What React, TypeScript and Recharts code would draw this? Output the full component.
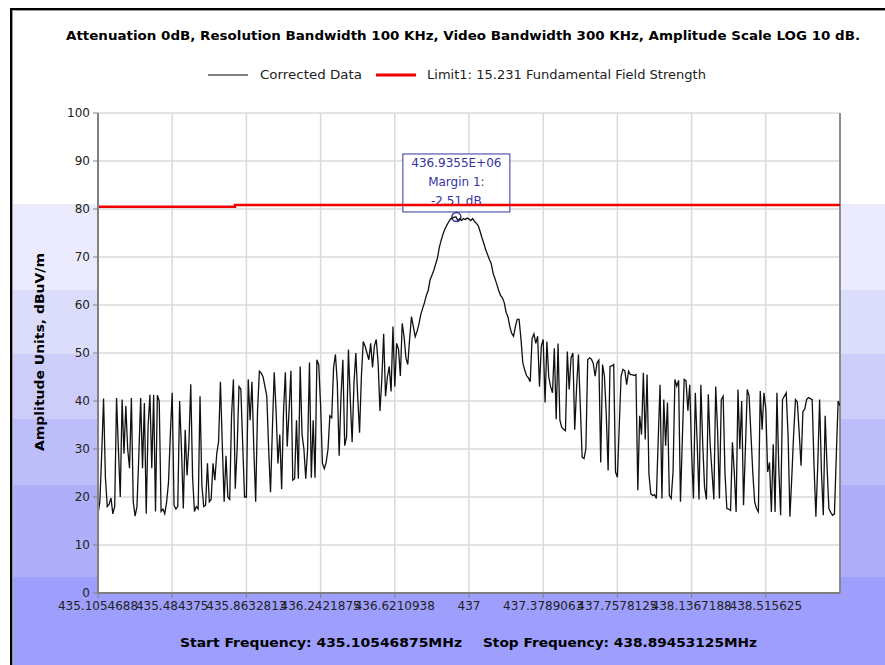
import { LineChart, Line, XAxis, YAxis, CartesianGrid, ReferenceDot, ReferenceLine } from 'recharts';

// sweep span, MHz
const START_MHZ = 435.10546875;
const STOP_MHZ = 438.89453125;

const xTicks = [
  435.10546875, 435.484375, 435.86328125, 436.2421875, 436.62109375,
  437, 437.37890625, 437.7578125, 438.13671875, 438.515625,
];
const xTickLabels = [
  '435.1054688', '435.484375', '435.8632813', '436.2421875', '436.6210938',
  '437', '437.3789063', '437.7578125', '438.1367188', '438.515625',
];
const yTicks = [0, 10, 20, 30, 40, 50, 60, 70, 80, 90, 100];

// corrected data, dBuV/m, read per tick interval (40 sweep points each)
const seg0 = [16.5, 19, 29, 40.5, 24, 18, 18.5, 19.8, 16.5, 18, 40.6, 30, 20, 40.3, 29, 39, 30, 26, 40.6, 19, 16, 18, 28.5, 40.6, 26, 39.6, 16.5, 34.8, 41.3, 26, 41.3, 17, 41.2, 40, 17, 17.5, 16.5, 19, 23, 33];
const seg1 = [41.7, 18.3, 17.5, 18, 40, 30, 17.6, 34, 24.5, 31, 43.5, 24, 17, 18, 17.5, 41, 22.4, 18, 18.3, 27, 19, 19.5, 27, 23.5, 29, 31.5, 44, 31, 19, 28.6, 20, 19.5, 37, 44.5, 21.7, 30, 43, 42.5, 31, 20];
const seg2 = [20, 44.5, 36, 44, 30, 19, 38, 46.2, 45.8, 45, 43, 41, 30, 21, 34, 46, 38, 27, 33, 21.6, 37.6, 46, 30.5, 38, 46.3, 23.5, 23.8, 36, 23.8, 47.2, 33, 30, 23.8, 30, 48, 24, 36, 24, 48.6, 47.5];
const seg3 = [39, 27, 25.9, 27.2, 30, 36.9, 36.5, 47, 49.7, 43.8, 28.6, 41, 48.6, 30.7, 32.5, 50.7, 40.3, 31.4, 43.8, 50, 41, 33.4, 45.2, 52.4, 51.4, 50, 48.6, 52, 47, 51.5, 52.8, 48, 37.9, 44.5, 54, 41, 45, 47.2, 42, 55.5];
const seg4 = [43, 52, 50.8, 45.2, 56.2, 53.4, 49, 47.6, 53, 57.6, 55.5, 53.4, 54.5, 56, 58, 59.3, 60.5, 62, 63, 65.2, 66.2, 67.2, 68.5, 69.8, 72, 73.5, 74.8, 75.8, 76.6, 77.3, 77.9, 78.1, 78.3, 78.34, 77.6, 78, 77.6, 78, 77.8, 78.1];
const seg5 = [77.9, 77.6, 78, 77.4, 77, 76.5, 75.3, 74, 72.8, 71.5, 70.5, 69.5, 68.6, 66.6, 65.5, 64.3, 63, 62, 61.5, 60.5, 58.5, 57.5, 55.5, 54.1, 53.5, 55.5, 57, 57, 53, 48, 46.5, 45.3, 44.8, 44, 53, 54, 52, 53.5, 43, 51.5];
const seg6 = [52.8, 39.7, 52.4, 45, 43, 41.7, 51, 36.2, 52, 36, 34.5, 34.1, 33.8, 50.3, 42.4, 49, 50, 34, 42.8, 49.7, 39, 28.3, 28, 30, 48.6, 49, 48.7, 47.8, 45.2, 47.9, 48.5, 27.2, 47.6, 45.2, 37.2, 25.5, 47.2, 47.3, 47.6, 25.2];
const seg7 = [24.1, 34.8, 45.2, 46.6, 46.3, 43.4, 46.2, 45.5, 45.5, 45.3, 45.5, 21.4, 36.9, 33, 45.9, 32, 45.5, 24.8, 20.7, 20.3, 20.5, 19.7, 32, 43.4, 19.7, 40.3, 30.7, 39.7, 20.3, 19.7, 25.2, 44.5, 43.1, 44.3, 19, 32, 44.5, 44.2, 38, 43.4];
const seg8 = [29.3, 19.7, 41.7, 31.4, 19.5, 43.4, 31, 22, 19.5, 41.4, 31, 25.2, 19.5, 43, 34, 19.7, 40.3, 41, 25, 17.6, 17.5, 17.2, 31.4, 25.2, 16.9, 42.4, 30, 40, 18.3, 30, 42.4, 41, 33, 25, 19, 17.6, 16.9, 42.1, 34, 41.7];
const seg9 = [38.3, 25.2, 27.2, 16.9, 31, 16.9, 41.7, 26, 16.2, 40.3, 41, 41.7, 33, 15.9, 24, 33, 40.3, 39.8, 33.5, 26.5, 37.8, 38.3, 40.3, 40.7, 40.5, 40.3, 26.5, 15.9, 26.5, 40.3, 25.2, 16.2, 36.9, 26.5, 17.6, 16.8, 16.2, 16.5, 28.6, 40];
const lastPoint = [39];

// limit line 15.231
const limitFreqs = [435.10546875, 435.805, 435.805, 438.89453125];
const limitValues = [80.45, 80.45, 80.85, 80.85];

// margin marker
const PEAK_FREQ = 436.9355;
const PEAK_AMP = 78.34;
const MARGIN_DB = -2.51;

const corrected = [...seg0, ...seg1, ...seg2, ...seg3, ...seg4, ...seg5, ...seg6, ...seg7, ...seg8, ...seg9, ...lastPoint];
const sweepStep = (STOP_MHZ - START_MHZ) / (corrected.length - 1);
const correctedData = corrected.map((a, i) => ({ f: START_MHZ + i * sweepStep, a }));
const limitData = limitFreqs.map((f, i) => ({ f, a: limitValues[i] }));

const FONT = '"DejaVu Sans", Verdana, sans-serif';
const MARK = '#34349c';

function tickLabel(v: number) {
  const i = xTicks.findIndex((t) => Math.abs(t - v) < 1e-6);
  return i >= 0 ? xTickLabels[i] : String(v);
}

function PeakCallout(props: any) {
  const { cx, cy } = props;
  if (cx == null || cy == null) return null;
  const w = 107;
  const h = 58;
  const t = { fontSize: 12, fontFamily: FONT, fill: MARK, textAnchor: 'middle' as const };
  return (
    <g>
      <rect x={cx - w / 2} y={cy - 63} width={w} height={h} fill="#fff" stroke={MARK} strokeWidth={1} />
      <text x={cx} y={cy - 50} {...t}>{`${PEAK_FREQ}E+06`}</text>
      <text x={cx} y={cy - 31} {...t}>Margin 1:</text>
      <text x={cx} y={cy - 12} {...t}>{`${MARGIN_DB} dB`}</text>
      <circle cx={cx} cy={cy} r={4.5} fill="none" stroke={MARK} strokeWidth={1.5} />
    </g>
  );
}

const bands =
  'linear-gradient(to bottom, #ffffff 0px, #ffffff 194px, #ebebfd 194px, #ebebfd 280px, ' +
  '#dcdcfb 280px, #dcdcfb 344px, #cdcdfa 344px, #cdcdfa 409px, #bdbdf9 409px, #bdbdf9 475px, ' +
  '#aeaef9 475px, #aeaef9 567px, #9e9efc 567px)';

export default function App() {
  const axisTick = { fontSize: 12, fill: '#222', fontFamily: FONT };
  return (
    <div>
      <div
        style={{
          position: 'absolute',
          left: 10,
          top: 8,
          width: 875,
          height: 657,
          boxSizing: 'border-box',
          borderLeft: '2px solid #000',
          borderTop: '2px solid #000',
          boxShadow: 'inset 1px 1px 0 #9a9a9a',
          background: bands,
        }}
      />
      <div style={{ position: 'absolute', left: 0, top: 0 }}>
        <LineChart width={885} height={665} margin={{ top: 113, right: 45, bottom: 42, left: 58 }}>
          <CartesianGrid stroke="#dadada" strokeWidth={1.5} fill="#fff" />
          <XAxis
            type="number"
            dataKey="f"
            domain={[START_MHZ, STOP_MHZ]}
            ticks={xTicks}
            interval={0}
            allowDataOverflow
            tickFormatter={tickLabel}
            tick={axisTick}
            tickSize={5}
            tickMargin={3}
            height={30}
            axisLine={{ stroke: '#808080', strokeWidth: 2 }}
            tickLine={{ stroke: '#808080' }}
          />
          <YAxis
            type="number"
            domain={[0, 100]}
            ticks={yTicks}
            interval={0}
            allowDataOverflow
            width={40}
            tick={axisTick}
            tickSize={5}
            tickMargin={3}
            axisLine={{ stroke: '#808080', strokeWidth: 2 }}
            tickLine={{ stroke: '#808080' }}
          />
          <ReferenceLine x={STOP_MHZ} stroke="#707070" strokeWidth={1.5} />
          <ReferenceDot
            x={PEAK_FREQ}
            y={PEAK_AMP}
            r={4.5}
            zIndex={300}
            shape={(p: any) => <PeakCallout {...p} />}
          />
          <Line
            data={correctedData}
            dataKey="a"
            type="linear"
            stroke="#111"
            strokeWidth={1.3}
            dot={false}
            isAnimationActive={false}
          />
          <Line
            data={limitData}
            dataKey="a"
            type="linear"
            stroke="#ee0000"
            strokeWidth={2.5}
            dot={false}
            isAnimationActive={false}
          />
        </LineChart>
      </div>
      <svg
        width={885}
        height={665}
        style={{ position: 'absolute', left: 0, top: 0, pointerEvents: 'none' }}
        fontFamily={FONT}
      >
        <text x={66} y={40} fontSize={12} fontWeight="bold" fill="#000" textLength={794} lengthAdjust="spacingAndGlyphs">
          Attenuation 0dB, Resolution Bandwidth 100 KHz, Video Bandwidth 300 KHz, Amplitude Scale LOG 10 dB.
        </text>
        <line x1={208} y1={75} x2={248} y2={75} stroke="#000" strokeWidth={1} />
        <text x={260} y={79} fontSize={12} fill="#222" textLength={102} lengthAdjust="spacingAndGlyphs">
          Corrected Data
        </text>
        <line x1={376} y1={75} x2={416} y2={75} stroke="#ee0000" strokeWidth={3} />
        <text x={427} y={79} fontSize={12} fill="#222" textLength={279} lengthAdjust="spacingAndGlyphs">
          Limit1: 15.231 Fundamental Field Strength
        </text>
        <text
          x={44}
          y={352}
          fontSize={12}
          fontWeight="bold"
          fill="#000"
          textAnchor="middle"
          textLength={198}
          lengthAdjust="spacingAndGlyphs"
          transform="rotate(-90, 44, 352)"
        >
          Amplitude Units, dBuV/m
        </text>
        <text x={180} y={647} fontSize={12} fontWeight="bold" fill="#000" textLength={282} lengthAdjust="spacingAndGlyphs">
          Start Frequency: 435.10546875MHz
        </text>
        <text x={483} y={647} fontSize={12} fontWeight="bold" fill="#000" textLength={274} lengthAdjust="spacingAndGlyphs">
          Stop Frequency: 438.89453125MHz
        </text>
      </svg>
    </div>
  );
}
